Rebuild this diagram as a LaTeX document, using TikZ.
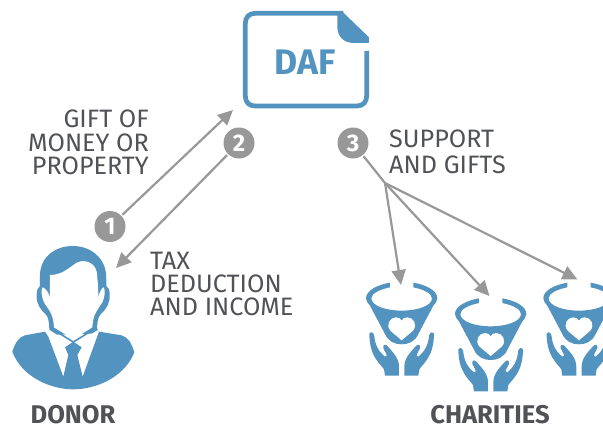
\documentclass[tikz,border=0pt]{standalone}
\usepackage{fontspec}
\setmainfont{Fira Sans}
\usetikzlibrary{arrows.meta}
\definecolor{iconblue}{HTML}{5393BF}
\definecolor{flowgray}{HTML}{999899}
\definecolor{textgray}{HTML}{505256}
\newcommand{\handshape}{%
  \fill[iconblue] (58,220) .. controls (62,214) and (68,216) .. (72,224)
    .. controls (75,245) and (78,268) .. (105,290)
    .. controls (112,290) and (112,284) .. (108,280)
    -- (100,265) .. controls (98,255) and (105,250) .. (112,258)
    .. controls (130,278) and (147,295) .. (147,320)
    -- (147,347) -- (105,347) -- (102,328)
    .. controls (90,310) and (58,290) .. (58,220) -- cycle;
}
\tikzset{
  x=1pt,y=-1pt,
  flow/.style={draw=flowgray,line width=2.2pt},
  arrowflow/.style={flow,-{Triangle[length=15pt,width=14pt]},shorten >=0pt},
  badge/.style={circle,fill=flowgray,text=white,minimum size=31pt,inner sep=0pt,outer sep=1.5pt,font=\fontsize{24}{24}\selectfont\bfseries},
  lbl/.style={text=textgray,inner sep=0pt,font=\fontsize{25.2}{23.4}\selectfont},
  title/.style={text=textgray,inner sep=0pt,font=\fontsize{25.6}{26}\selectfont\bfseries},
  pics/charity/.style={code={
    \begin{scope}[x=0.3333pt,y=-0.3333pt]
      \fill[iconblue] (120,68) .. controls (85,74) and (48,90) .. (48,115)
        .. controls (48,125) and (55,130) .. (60,137) -- (105,222)
        .. controls (115,245) and (135,253) .. (155,253)
        .. controls (175,253) and (195,245) .. (205,222) -- (250,137)
        .. controls (255,130) and (262,125) .. (262,115)
        .. controls (262,90) and (225,74) .. (190,68) -- (190,82)
        .. controls (220,88) and (246,100) .. (246,115)
        .. controls (246,138) and (200,152) .. (155,152)
        .. controls (110,152) and (64,138) .. (64,115)
        .. controls (64,100) and (90,88) .. (120,82) -- cycle;
      \fill[white] (155,241) -- (122,213) .. controls (105,195) and (120,172) .. (138,172)
        .. controls (147,172) and (152,176) .. (155,182)
        .. controls (158,176) and (163,172) .. (172,172)
        .. controls (190,172) and (205,195) .. (188,213) -- cycle;
      \handshape
      \begin{scope}[shift={(310,0)},xscale=-1]
        \handshape
      \end{scope}
    \end{scope}
  }}
}
\begin{document}
\begin{tikzpicture}
\useasboundingbox (0,0) rectangle (603,426);
% document icon
\begin{scope}[shift={(230,0)},x=0.3333pt,y=-0.3333pt]
  \draw[iconblue,line width=4.7pt] (340,40) -- (75,40)
    .. controls (57,40) and (46,52) .. (46,70) -- (46,288)
    .. controls (46,306) and (57,318) .. (75,318) -- (381,318)
    .. controls (399,318) and (410,306) .. (410,288) -- (410,153);
  \fill[iconblue] (335,33) -- (417,112) -- (417,129) -- (372,129)
    .. controls (340,129) and (322,108) .. (322,80) -- (322,33) -- cycle;
\end{scope}
\node[text=iconblue,inner sep=0pt,font=\fontsize{35.5}{36}\selectfont\bfseries] (daf) at (305,62) {DAF};
% donor icon
\begin{scope}[shift={(0,230)},x=0.3333pt,y=-0.3333pt]
  \fill[iconblue] (148,295) .. controls (147,275) and (145,262) .. (138,254)
    .. controls (122,240) and (108,220) .. (110,195)
    .. controls (110,180) and (114,172) .. (120,168)
    .. controls (119,155) and (119,145) .. (120,130)
    .. controls (125,75) and (170,48) .. (218,48)
    .. controls (270,48) and (312,80) .. (318,130)
    .. controls (319,145) and (319,155) .. (319,168)
    .. controls (325,172) and (330,180) .. (329,195)
    .. controls (331,220) and (317,240) .. (301,254)
    .. controls (294,262) and (292,275) .. (291,295)
    -- (300,310) -- (150,315) -- cycle;
  \fill[white] (150,135) .. controls (185,135) and (205,115) .. (230,98)
    .. controls (255,85) and (285,100) .. (290,125)
    .. controls (293,150) and (295,175) .. (295,205)
    .. controls (298,185) and (306,172) .. (312,172)
    .. controls (316,185) and (314,200) .. (308,215)
    .. controls (300,230) and (290,240) .. (284,255)
    .. controls (279,268) and (278,280) .. (277,292)
    -- (220,328) -- (162,292)
    .. controls (161,280) and (160,268) .. (155,255)
    .. controls (149,240) and (139,230) .. (131,215)
    .. controls (125,200) and (123,185) .. (127,172)
    .. controls (133,172) and (147,185) .. (150,205) -- cycle;
  \fill[white] (145,298) -- (220,345) -- (297,298) -- (300,330) -- (250,445) -- (190,445) -- (142,320) -- cycle;
  \draw[iconblue,line width=1.6pt] (150,293) -- (220,336) -- (290,293);
  \fill[iconblue] (37,365) .. controls (45,340) and (55,322) .. (75,316)
    -- (135,305) -- (145,320) -- (190,440) -- (205,375) -- (195,352) -- (220,335)
    -- (245,352) -- (232,375) -- (248,440) -- (297,305) -- (365,316)
    .. controls (385,322) and (395,340) .. (403,367)
    .. controls (375,440) and (290,478) .. (220,478)
    .. controls (150,478) and (65,440) .. (37,365) -- cycle;
\end{scope}
% charity icons
\pic at (350,260) {charity};
\pic at (439,275.7) {charity};
\pic at (527.3,260) {charity};
% badges and connectors
\node[badge] (one) at (110,226.5) {1};
\node[badge] (two) at (239,143) {2};
\node[badge] (three) at (353,143) {3};
\coordinate (gifttip) at (233,110);
\coordinate (taxtip) at (116,268);
\coordinate (fan) at (385,183);
\coordinate (tipa) at (401,285);
\coordinate (tipb) at (489.5,296);
\coordinate (tipc) at (577.5,279.5);
\draw[arrowflow] (one) -- (gifttip);
\draw[arrowflow] (two) -- (taxtip);
\draw[flow] (three) -- (fan);
\draw[arrowflow] (fan) -- (tipa);
\draw[arrowflow] (fan) -- (tipb);
\draw[arrowflow] (fan) -- (tipc);
% labels
\node[lbl,align=right,anchor=north east] (gift) at (149,110) {GIFT OF\\MONEY OR\\PROPERTY};
\node[lbl,align=left,anchor=north west] (tax) at (150,251.5) {TAX\\DEDUCTION\\AND INCOME};
\node[lbl,align=left,anchor=north west] (support) at (389,130) {SUPPORT\\[2.5pt]AND GIFTS};
\node[title] (donor) at (73,415) {DONOR};
\node[title] (charities) at (490,415) {CHARITIES};
\end{tikzpicture}
\end{document}
